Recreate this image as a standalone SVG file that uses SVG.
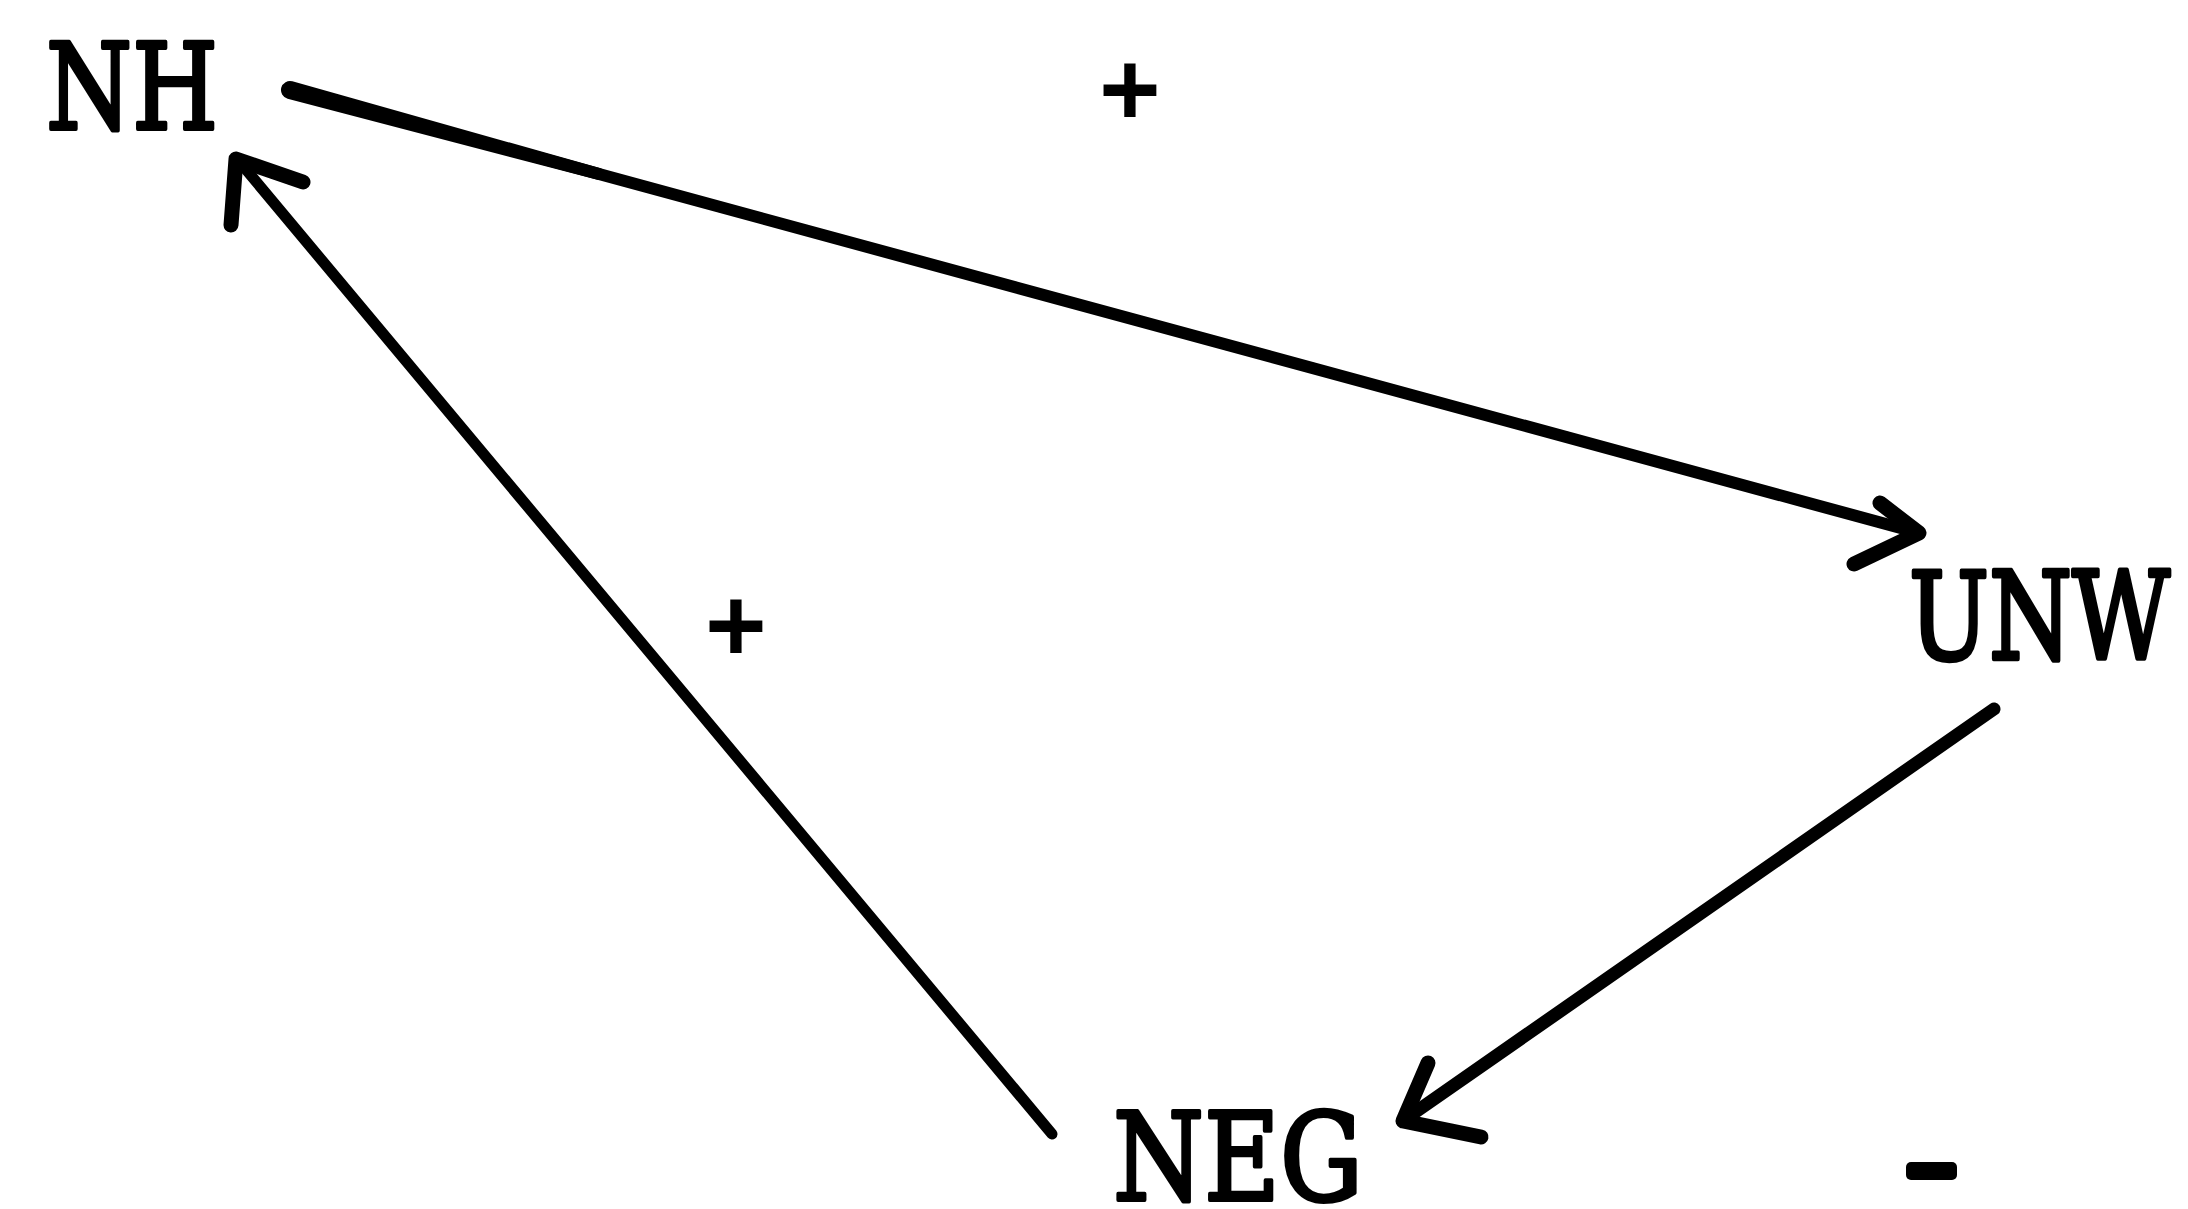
<svg xmlns="http://www.w3.org/2000/svg" width="2188" height="1209" viewBox="0 0 2188 1209">
<style>
.lbl{font-family:"DejaVu Serif","Liberation Serif",serif;fill:#000;stroke:#000;stroke-width:4;stroke-linejoin:round}
.sign{font-family:"Liberation Serif",serif;font-weight:bold;fill:#000;stroke:#000;stroke-width:4;text-anchor:middle}
.edge{fill:none;stroke:#000;stroke-width:12;stroke-linecap:round;stroke-linejoin:round}
.head{fill:none;stroke:#000;stroke-width:15;stroke-linecap:round;stroke-linejoin:round}
</style>
<rect width="2188" height="1209" fill="#fff"/>
<g id="connectors">
  <g id="e-nh-unw">
    <path class="edge" d="M290 90 L1919 533"/>
    <path d="M292.4 81.3 L601.6 168.5 L598.4 180.1 L287.6 98.7 A9 9 0 0 1 292.4 81.3 Z" fill="#000"/>
    <path class="head" d="M1880 503 L1919 533 L1854 564"/>
  </g>
  <g id="e-neg-nh">
    <path class="edge" style="stroke-width:11" d="M1052 1134 L238 160"/>
    <path class="head" d="M231 225 L236 159 L303 182"/>
  </g>
  <g id="e-unw-neg">
    <path class="edge" style="stroke-width:13" d="M1994 709 L1404 1120"/>
    <path class="head" d="M1428 1063 L1403 1121 L1481 1137"/>
  </g>
</g>
<g id="node-NH"><text class="lbl" x="46" y="129" font-size="119" textLength="172" lengthAdjust="spacingAndGlyphs">NH</text></g>
<g id="node-UNW"><text class="lbl" transform="translate(1909,659) scale(1,1.284)" x="0" y="0" font-size="95" style="stroke-width:3.5">UNW</text></g>
<g id="node-NEG"><text class="lbl" x="1113" y="1200" font-size="122" textLength="250" lengthAdjust="spacingAndGlyphs">NEG</text></g>
<g id="labels">
  <text class="sign" x="1130" y="126" font-size="105">+</text>
  <text class="sign" x="736" y="662" font-size="105">+</text>
  <rect x="1906" y="1162" width="51" height="18" rx="5" fill="#000"/>
</g>
</svg>
